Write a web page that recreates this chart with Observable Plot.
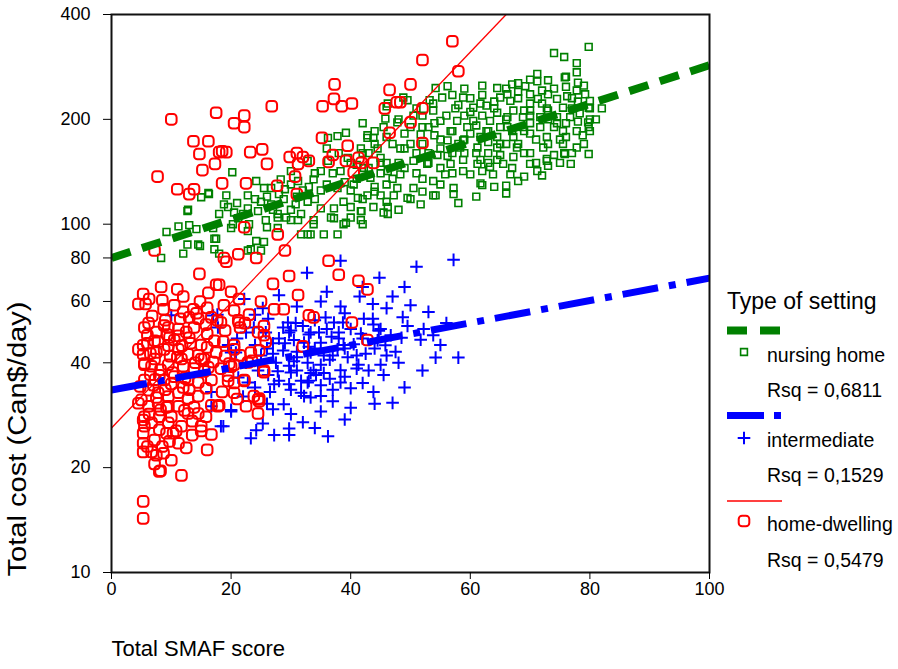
<!DOCTYPE html>
<html>
<head>
<meta charset="utf-8">
<script src="https://cdn.jsdelivr.net/npm/d3@7"></script>
<script src="https://cdn.jsdelivr.net/npm/@observablehq/plot@0.6"></script>
<style>
  body { margin: 0; background: #fff; font-family: "Liberation Sans", Arial, sans-serif; }
  #chart { position: relative; width: 898px; height: 669px; }
  #chart svg { position: absolute; left: 0; top: 0; }
</style>
</head>
<body>
<div id="chart"></div>
<script>
// Total SMAF score (x) and total cost in Can$/day (y) per person, by type of setting
const nursingHome = [
  [12.7,109],[9.2,95],[11.2,98.6],[13,99.4],[14.2,96.8],[17,97.5],[17.5,90.8],[12.7,87.4],[12,82.3],[14.8,86.6],
  [18,82.3],[8.3,80],[18,107],[19.5,112],[21.2,104],[22.8,95.5],[24.2,89.5],[25,84],[22.8,84],[25.8,102.7],
  [27.8,107],[29.2,104.5],[27.8,97.5],[31.7,93.5],[33.3,93.5],[31.2,102.7],[33.8,100],[37.2,104],[39.2,101],[41.7,102.7],
  [41.8,109],[45.5,108],[46.2,112],[43.8,112],[20.3,100],[22,107],
  [20.2,141],[24.2,133],[12.8,110],[15,119.5],[16.3,122],[19.2,121],[18.8,114],[20.5,108],[22.8,111],[25,116],
  [25.5,127],[28.3,134.5],[31.2,133],[33.8,134.5],[35,142],[32.8,152],[36.2,177],[39.2,183],[42.8,180],[45.5,190],
  [47.8,196],[50.5,205],[53.8,222],[48.8,231],[46.2,222],[26.7,114],[28.8,118],[30.8,114],[32.8,116],[35,111],
  [37.2,111],[38.8,116],[41.2,119],[42.8,121],[45,121],[47.2,121],[49.5,119],[51.7,114],[53.8,121],[46.2,107],
  [42,100],[40,104.5],[38.8,100],[35.5,93.5],[32.8,93.5],[37.8,127],[40.5,130],[43.3,136],[46.2,142],[48.3,139],
  [50.5,152],[52.8,149],[54.5,158],[53.8,133],[50.5,127],[47.8,127],[45,155],[48.3,165],[51.7,181],[44.5,165],
  [41.7,165],[42.2,145],[38.3,142],[36.2,152],[39.5,155],[30,142],[26.7,127],[22.8,121],[24.5,109],[27.8,104.5],
  [30,102.7],[31.7,107],[33.8,102.7],[36.7,104.5],[20,97.5],[17.2,90.8],[14.5,87.4],[17.2,84.7],[23.3,84.7],[25.5,89],
  [37.8,93.5],[41.7,109],
  [79.8,323],[74,310],[75.7,302],[77.8,290],[77.8,273],[71.2,270],[71.2,257],[73,259],[75.8,264],[56.2,249],
  [54.2,246],[64.5,246],[68,254],[69.2,249],[65,231],[58.8,231],[61.7,222],[82,215],[79.8,216],[79.7,196],
  [79.8,190],[78.8,180],[77.8,166],[79.8,159],[76.8,149],[73,147],[75.7,160],[69,137],[66,129],[66,122.5],
  [61.7,131],[57.2,127],[57.2,122],[52,124],[63.8,139],[71.2,142],[72.8,154],
  [55.3,231],[57.5,215],[60.5,216],[62.7,219],[66.2,236],[66.7,226],[70,236],[71.3,229],[73,236],[74.5,229],
  [76.2,233],[77.8,242],[79.2,236],[80,226],[80,215],[80,185],[75.8,159],[62,129.5],[58.8,142],[54.2,121],
  [55.8,139],[60,139],[66.7,139],[72.8,152],[70,160],[67.2,156],[64.5,153],[61.7,153],[58.8,153],[56.2,157],
  [75.5,170],[77.8,185],[75.5,185],[72.8,178],[70,182],[67.2,178],[64.5,178],[61.7,178],[58.8,174],[56.2,174],
  [76.7,203],[74.5,203],[71.7,203],[68.8,203],[66.2,203],[63.3,198],[60.5,198],[57.8,198],[55,198],[75.5,216],
  [72.8,215],[70,212],[67.2,212],[64.5,209],[78.3,208],[56.7,185],[59.5,190],[62.7,185],[66.2,190],[68.8,190],
  [71.7,190],[74.5,195],[61.2,166],[64.5,166],[67.8,166],[58.3,166],[72.2,166],[61.2,149],[65.5,149],[70,149],
  [56.7,149],[63.3,146],
  [53.2,227],[49.5,227],[53.8,212],[46,218],[45.8,201],[43.8,177],[42.8,177],[37.8,179],[16.2,123],
  [50,170],[52,190],[55,175],[57,160],[59,205],[61,192],[63,172],[65,158],[68,170],[70,195],
  [72,222],[74,190],[76,178],[78,197],[67,145],[69,212],[62,205],[60,182],[58,170],[55,145],
  [53,160],[51,140],[49,182],[47,170],[45,140],[43,160],[41,148],[39,132],[37,140],[35,125],
  [33,128],[31,120],[29,126],[27,110],[34,118],[44,128],[48,150],[64,225],[68,230],[60,210],
  [73,200],[77,215],[65,190],[71,175],[57,185],[54,195],[52,205],[63,160],[66,170],[59,175],
  [74,158],[76,195],[69,185],[62,142],[46,130],[40,125],[30,110],[26,98],[23,100],[21,115],
  [40,112],[42,118],[44,124],[46,116],[48,110],[50,118],[41,135],[43,145],[45,150],[47,135],
  [49,145],[51,160],[53,150],[52,170],[54,180],[50,190],[48,200],[46,178],[44,170],[42,160],
  [40,150],[38,160],[36,130],[34,140],[32,125],[30,130],[28,122],[26,120],[24,118],[36,165],
  [52,135],[55,165],[56,205],[58,220],[60,230],[62,235],[64,215],[66,245],[68,240],[70,222],
  [72,242],[74,245],[76,248],[78,255],[61,160],[63,150],[65,170],[67,185],[69,160],[71,150],
  [73,170],[75,175],[77,160],[79,170],[81,200],[78,225],[59,160],[57,140],[55,130],[53,190],
  [51,215],[49,165],[57,235],[59,245],[62,250],[46,150],[44,185],[42,195],[58,115],[61,120],
  [64,128],[68,133],[72,138],[75,150],[63,185],[66,200],[70,205],[73,212],[77,230],[80,200],
  [79,250],[76,265],[70,260],[67,252]
];

const intermediate = [
  [57.2,79],[51,75.5],[38.3,78.5],[32.7,72.5],[44.8,70.2],[49,66],[43.7,59],[46,57.4],[50,58.5],[38.3,58],
  [48.7,54.1],[43.7,53.5],[37.2,52.2],[38.7,52.2],[34.7,48.9],[33.3,48.9],[38,48.9],[44.7,49.4],[49.5,51],[52.2,50],
  [53.8,48],[41.7,48.5],[46.7,48],[32.2,45.7],[35,45.7],[38.8,45],[44.5,46.4],[45.8,44.9],[51.7,46.6],[54.2,41.4],
  [58,41.4],[33.3,42.8],[35.5,42],[37.8,43.7],[41.3,39.5],[45,39.5],[45.5,36.9],[33.3,37.4],[35.5,37.4],[38.3,38.1],
  [32.8,35.1],[35,34.5],[38.3,35.1],[32.2,32.1],[35,32.1],[43.8,33],[47,30.7],[40,29.7],[36.2,24.6],
  [35.8,54],[29.5,52.2],[29.7,48.9],[25.3,57.4],[26.2,53.5],[22.2,61],[17,54.7],[17.8,50.5],[28.7,50.5],[33,48.2],
  [42.2,53.5],[43.8,51.5],[45,50],[41,38.5],[34.2,36.9],[31.7,35.5],[29.7,34.7],[27.2,34.7],[26.2,36.9],[24.5,38],
  [22.8,35.1],[21.2,36.3],[28.7,43.4],[30.5,40.4],[32.8,40],[33.8,38.1],[29.7,39.2],[31.7,32.8],[33.3,31.8],[28.8,30.4],
  [27,29.4],[20,29],[18.3,26.3],[24.2,25.6],[27.2,24.8],[29.7,25.9],[29.7,24.8],[23.3,24.3],[20.8,42.8],[22.5,40],
  [27.5,40],[25,42],[25.8,48.9],[23.8,50.5],[22.5,48.9],
  [10,54.8],[17.7,55],[19.5,45],[20,42.8],[16.7,30],[18.7,26.3],[20,29.3],[16.7,33],[25.3,26.8],
  [30.5,46.5],[31,43],[36.5,40.8],[39.5,41.5],[40.5,45.2],[36.8,47.5],[34,44],[30,37.5],[27.8,37.8],[36.5,36],
  [40,33.8],[42.5,42.5],[47.5,43],[48.5,47.2],[30.8,52],[27,45.5],[24,45],[26.5,33],[37,31],[39,55.5],
  [41.5,62],[35,60],[28,62.5],
  [26,44],[28,47],[30,49.5],[32,51],[34,53],[36,50],[38,47],[40,50],[42,47],[44,44],
  [46,42],[48,40],[31,41.5],[33,44.5],[35,39.5],[37,42],[39,44],[41,42],[43,38],[27,42.5],
  [29,45.5],[31,38],[33,35.5],[35,29],[37,33.5],[39,36.5],[42,35],[28,35.5],[30,33.5],[24,34],
  [22,32],[26,30.5],[30,28.5],[32,27],[34,26],[39,27.5],[44,30.5],[49,34],[52,38],[55,45],
  [56,52],[53,56],[47,62],[42,66],[36,64],[31,58],[24,55],[21,47]
];

const homeDwelling = [
  [57,335],[58,275],[50,252],[52,296],[48.3,224],[50,196],[52,215],[52,171],
  [37.3,252],[46.5,243],[37.2,229],[35.3,218],[38.5,218],[40.2,222],[45.7,215],[47.7,224],[26.8,218],[17.5,209],
  [10,200],[22.2,205],[20.5,195],[22.2,190],[46.5,183],[35.2,177],[39.5,168],[13.7,173],[16.2,173],[14.7,159],
  [18,161],[19.2,161],[23.2,161],[25.2,164],[31,160],[29.8,156],[32,156],[33,152],[17.3,149],[26,149],
  [31.2,149],[36.3,151],[39.2,152],[41.3,155],[43.8,150],[41.8,150],[15.2,143],[7.7,137],[30.7,137],[40.5,141],
  [18.5,131],[22.5,131],[11,126],[13.8,126],[13,122],[27.7,129],[31,122],[18.5,162],[37,158],
  [27.8,93.5],[22.2,98],[29,84],[21.2,82],[18.8,80],[24.2,80],[7.2,84],[19.2,78],[14.7,72],[36.3,78.5],
  [38,71.6],[41.3,68.8],[42.8,65],[29.7,71],[27,67.4],[8.3,66],[11,65],[17.5,67],[18,67],[16.2,63.5],
  [5.3,63],[6.3,61],[4.5,59],[31.2,62.6],[21.3,61],[28.8,57],[8.7,57],[12,56],[13,54],[14.5,53.5],
  [16.7,54],[17.7,53],[33,54.8],[33.8,54],[21.2,53],[27.2,57],[40.2,52.2],[5.5,50.5],[9.5,50.5],[11.2,50],
  [9.3,48.2],[22.3,52],[21.5,50.5],[25.5,51],[24.5,49],[25.5,48],[17.2,46.3],[18.7,46],[10.5,46.5],[7.8,46],
  [5.3,44.9],[4.5,43.7],[11.2,43.7],[15,45],[20.5,45],[23.3,42.8],[25.8,46],[32,44.6],[42.8,46.5],[22.8,40.1],
  [19.7,39.8],[15,41],[5.5,39.5],[7.2,41],[11.7,41],[19.5,36.7],[20.5,35],[22.2,35.5],[25.5,38],[24.7,31.6],
  [5.3,16],[5.3,14.3],[8.2,19.6],[11.7,19],[7.2,20.5],[8.7,22],[11.2,23.5],[5.3,22.2],[6.7,22.2],[5.3,23.5],
  [9.7,23.8],[7.2,24],[5.3,25.1],[10.8,25.5],[15,26.3],[15,25.5],[16.7,24.9],[24.5,28.6],[24.5,31.4],[18,30.2],
  [16.7,30.2],[14.5,28.6],[12.8,28.6],[5.3,27.4],[6.7,26.9],[9.5,26.9],[4.5,30.6],[6.2,30],[7.8,30.6],[9.5,30],
  [11.2,30],[12.2,29.2],[9.5,32],[12.8,31.6],[5.5,28],[8,28],[10,28],[11.7,26.3],[8,25.7],[9.2,25.1],
  [5.7,59],[13.7,57],[14.2,55.5],[8.8,51.2],[9.7,47.3],[11.2,47.8],[7.2,46.3],[5.3,42.3],[7.5,42.8],[8.8,43.7],
  [12.8,42.3],[14.5,42],[15.5,41],[5.5,39.8],[6.7,39.1],[9.5,39.5],[12,39.1],[13.8,38.5],[15.5,37.8],[5.5,35.7],
  [8.8,35.7],[12.8,35.7],[14.5,35.1],[16.7,35.7],[18.3,38.5],[20.5,39.5],[22.2,35.7],[19.5,35.5],[6.2,33.4],[7.8,32.8],
  [11.2,32.8],[5,31.3],[14.5,32.1],[17.8,30],[5.5,26.3],[10.3,25.1],[7.5,21.7],[8,19.5],[23.8,32.1],[20.5,43.7],
  [18.3,52.2],[21.3,52.2],[24.7,43.4],[25.5,37.6],[24.7,31],[20,39],[23.5,40.5],[6.5,37],[10.5,36.5],[7,34.5],
  [9,33.5],[13,33.5],[10.2,37.5],[8.2,38.2],[11,41.5],[6,48],[12.5,49],[13.2,45.5],[16,48.5],[9,53],
  [6.8,54.5],[10.5,58.5],[14.8,60],[8.2,29.3],[6.3,28.5],[13.5,27.2],[7.3,35.8],[16.2,38.8],[17.5,42.8],[19,49.5],
  [20.5,56.5],[12.3,36.2],[4.8,34.2],[11.8,44.8],[9.8,41.8],
  [6,45.5],[7.5,49],[9.5,44.8],[11.5,53.5],[13.8,50.5],[15.8,51.5],[6.2,52],[8.5,60.5],[12,62],[16,57.5],
  [18.8,58.5],[20,64],[23,55],[25,60],[14,40],[17,40.2],[19,41.8],[21.5,42],[16,44.3],[13,47.2],
  [6.5,42.5],[8,36.8],[10,34.8],[12,34],[15.8,33.8],[18.5,33],[21,31.5],[22.5,30],[20.5,32.8],[7.5,31.8],
  [9.2,29.8],[13.8,29.8],[15.8,28],[6,23],[8.5,23],[10,21],[12.5,22.8],[13.5,24.8],[16,22.5]
];

// Fitted lines (log cost against score): endpoints of each fit, and their R²
const settings = ["nursing home", "intermediate", "home-dwelling"];
const fitStartX = [0, 0, 0];
const fitStartY = [80, 33.4, 26];
const fitEndX = [100, 100, 66];
const fitEndY = [286, 70, 400];
const rsq = ["0,6811", "0,1529", "0,5479"];

const xTicks = [0, 20, 40, 60, 80, 100];
const yTicks = [10, 20, 40, 60, 80, 100, 200, 400];

const colors = ["#008000", "#0000ff", "#ff0000"];

// Marker shapes: small open square, plus sign, rounded open square
const squareSymbol = {
  draw(ctx) { const s = 3.4; ctx.moveTo(-s, -s); ctx.lineTo(s, -s); ctx.lineTo(s, s); ctx.lineTo(-s, s); ctx.closePath(); }
};
const plusSymbol = {
  draw(ctx) { const s = 6.3; ctx.moveTo(-s, 0); ctx.lineTo(s, 0); ctx.moveTo(0, -s); ctx.lineTo(0, s); }
};
const roundSquareSymbol = {
  draw(ctx) {
    const s = 5.3, r = 3.4;
    ctx.moveTo(-s + r, -s);
    ctx.lineTo(s - r, -s); ctx.arcTo(s, -s, s, -s + r, r);
    ctx.lineTo(s, s - r); ctx.arcTo(s, s, s - r, s, r);
    ctx.lineTo(-s + r, s); ctx.arcTo(-s, s, -s, s - r, r);
    ctx.lineTo(-s, -s + r); ctx.arcTo(-s, -s, -s + r, -s, r);
    ctx.closePath();
  }
};
const symbols = [squareSymbol, plusSymbol, roundSquareSymbol];
const markerStroke = [1.6, 2, 2];

const lineStyles = [
  {strokeWidth: 8, strokeDasharray: "20,12"},
  {strokeWidth: 7, strokeDasharray: "36,11,7,11"},
  {strokeWidth: 1.3, strokeDasharray: null}
];

const series = [nursingHome, intermediate, homeDwelling];

const pointMarks = series.map((pts, i) =>
  Plot.dot(pts, {
    x: d => d[0], y: d => d[1],
    symbol: symbols[i], r: 5,
    stroke: colors[i], strokeWidth: markerStroke[i], fill: "none"
  })
);

const fitMarks = settings.map((s, i) =>
  Plot.line(
    [{x: fitStartX[i], y: fitStartY[i]}, {x: fitEndX[i], y: fitEndY[i]}],
    {x: "x", y: "y", stroke: colors[i], strokeLinecap: "butt", clip: true, ...lineStyles[i]}
  )
);

const xAxisOpts = {tickSize: 7, tickPadding: 3, label: null};
const yAxisOpts = {tickSize: 8, tickPadding: 13, tickFormat: d => String(d), label: null};
const hasAxisMarks = typeof Plot.axisY === "function";
const axisMarks = hasAxisMarks
  ? [Plot.axisX(xTicks, {anchor: "bottom", ...xAxisOpts}), Plot.axisY(yTicks, {anchor: "left", ...yAxisOpts})]
  : [];

const chart = Plot.plot({
  width: 898,
  height: 669,
  marginLeft: 111,
  marginRight: 189,
  marginTop: 14,
  marginBottom: 97,
  style: {fontFamily: "'Liberation Sans', Arial, sans-serif", fontSize: "18px", color: "#000", background: "#fff", overflow: "visible"},
  x: hasAxisMarks ? {domain: [0, 100]} : {domain: [0, 100], ticks: xTicks, ...xAxisOpts},
  y: hasAxisMarks ? {type: "log", domain: [10, 400]} : {type: "log", domain: [10, 400], ticks: yTicks, ...yAxisOpts},
  marks: [
    ...pointMarks,
    ...fitMarks,
    Plot.frame({stroke: "#111", strokeWidth: 2}),
    ...axisMarks,
    Plot.text(["Total SMAF score"], {frameAnchor: "bottom-left", dy: 83, textAnchor: "start", fontSize: 22}),
    Plot.text(["Total cost (Can$/day)"], {frameAnchor: "bottom-left", dx: -86, dy: 4, rotate: -90, textAnchor: "start", fontSize: 25})
  ]
});
document.getElementById("chart").appendChild(chart);

// The vertical title runs from the bottom of the axis up to about the 55 mark
d3.select(chart).selectAll("text")
  .filter(function () { return this.textContent === "Total cost (Can$/day)"; })
  .attr("textLength", 275)
  .attr("lengthAdjust", "spacingAndGlyphs");

// Legend to the right of the plot
const legend = d3.select("#chart").append("svg")
  .attr("width", 898).attr("height", 669)
  .style("pointer-events", "none")
  .style("font-family", "'Liberation Sans', Arial, sans-serif");

legend.append("text").attr("x", 727).attr("y", 309).attr("font-size", 23).text("Type of setting");

const rowTop = [330.5, 415.5, 501];
const markerY = [352, 438, 521];
const labelY = [362, 447, 531];
const rsqY = [397, 482, 567];
settings.forEach((s, i) => {
  legend.append("line")
    .attr("x1", 727).attr("x2", 782).attr("y1", rowTop[i]).attr("y2", rowTop[i])
    .attr("stroke", colors[i]).attr("stroke-width", lineStyles[i].strokeWidth)
    .attr("stroke-dasharray", i === 0 ? "20,13" : i === 1 ? "37,10,7,10" : null);
  legend.append("path")
    .attr("transform", `translate(744,${markerY[i]})`)
    .attr("d", d3.symbol(symbols[i])())
    .attr("fill", "none").attr("stroke", colors[i]).attr("stroke-width", markerStroke[i]);
  legend.append("text").attr("x", 767).attr("y", labelY[i]).attr("font-size", 19.5).text(s);
  legend.append("text").attr("x", 767).attr("y", rsqY[i]).attr("font-size", 19.5).text(`Rsq = ${rsq[i]}`);
});
</script>
</body>
</html>
